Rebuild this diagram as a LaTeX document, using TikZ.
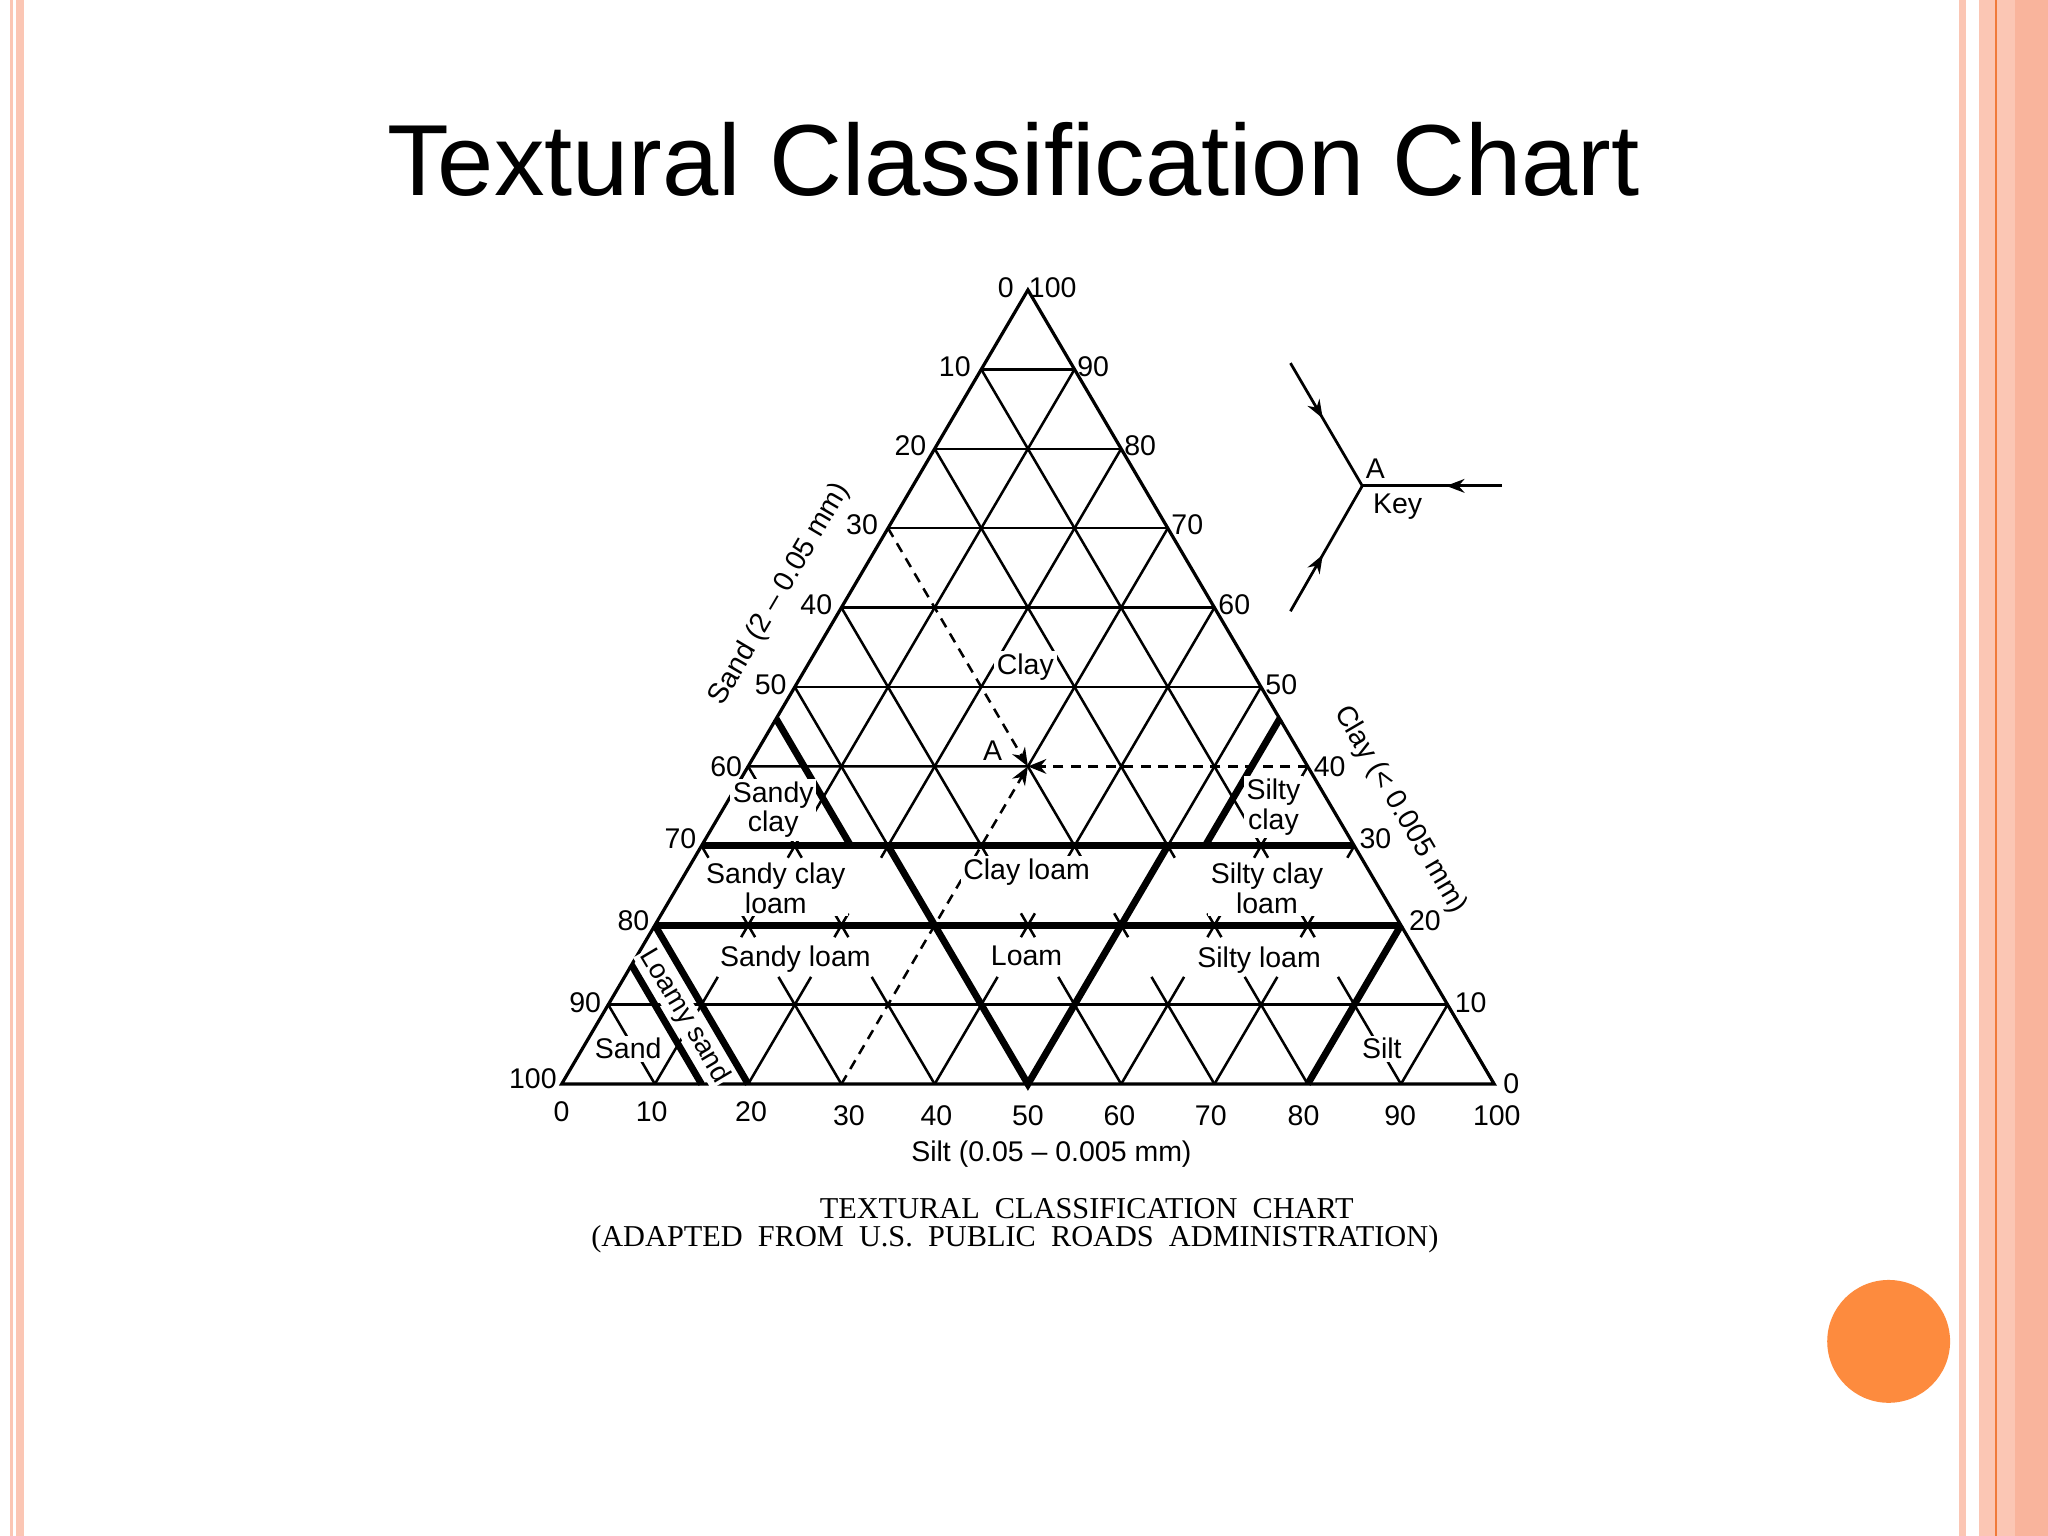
\documentclass[tikz,border=0pt]{standalone}
\usepackage{fontspec}
\setmainfont{Liberation Sans}
\newfontfamily\capfont{Liberation Serif}
\usetikzlibrary{arrows.meta,decorations.markings}
\newcommand\tp[2]{({430+7.14*(#1)+3.57*(#2)},{830-6.08*(#2)})}
\definecolor{pinkb}{HTML}{FBC6B4}
\definecolor{pinkd}{HTML}{F9B49C}
\definecolor{orangeb}{HTML}{F07A3A}
\definecolor{dotc}{HTML}{FD8B3E}
\tikzset{
  thin grid/.style={line width=0.55pt},
  thick bound/.style={line width=1.5pt},
  num/.style={font=\fontsize{6.2}{7}\selectfont,inner sep=0.5pt},
  region/.style={font=\fontsize{6.2}{6.4}\selectfont,align=center,fill=white,inner sep=0.6pt},
  dashline/.style={line width=0.55pt,dash pattern=on 2.2pt off 1.6pt},
  midarrow/.style={line width=0.6pt,postaction={decorate},decoration={markings,mark=at position #1 with {\arrow{Stealth[length=4pt,width=3pt]}}}}
}
\begin{document}
\begin{tikzpicture}[x=0.01cm,y=-0.01cm]
\useasboundingbox (0,0) rectangle (1568,1176);
\fill[white] (0,0) rectangle (1568,1176);
% borders
\fill[pinkb] (8,0) rectangle (10,1176);
\fill[pinkb] (12,0) rectangle (18,1176);
\fill[pinkb] (1500,0) rectangle (1505,1176);
\fill[pinkb] (1515,0) rectangle (1568,1176);
\fill[pinkd] (1543,0) rectangle (1568,1176);
\fill[orangeb] (1527.5,0) rectangle (1529,1176);
\node[fill=dotc,circle,minimum size=0.94cm,inner sep=0pt] (dot) at (1446,1027) {};
% title
\node[font=\fontsize{22}{26}\selectfont] (title) at (776,122) {Textural Classification Chart};
% example point A
\coordinate (A) at (787,586.8);
\coordinate (ds) at (679.9,404.4);
\coordinate (dc) at (1001.2,586.8);
\coordinate (dl) at (644.2,830);
% grid: horizontals
\foreach \c in {10,50,60,70,80,90}{\draw[thin grid] \tp{0}{\c} -- \tp{100-\c}{\c};}
\draw[thin grid] \tp{0}{40} -- (A);
% upper slanted
\foreach \s in {10,20,40,50,60}{\draw[thin grid] \tp{\s}{30} -- \tp{\s}{100-\s};}
\draw[thin grid] (A) -- \tp{30}{70};
\foreach \k in {40,50,60,80,90}{\draw[thin grid] \tp{\k-30}{30} -- \tp{0}{\k};}
\draw[thin grid] \tp{40}{30} -- (A);
% band 0-10
\foreach \s in {10,20,40,50,60,70,80,90}{\draw[thin grid] \tp{\s}{0} -- \tp{\s}{10};}
\foreach \k in {10,20,...,100}{\draw[thin grid] \tp{\k}{0} -- \tp{\k-10}{10};}
% band 10-20
\foreach \s in {10,20,40,50,60,70,80}{\draw[thin grid] \tp{\s}{10} -- \tp{\s}{13.5} \tp{\s}{18.5} -- \tp{\s}{20};}
\foreach \k in {20,30,...,90}{\draw[thin grid] \tp{\k-10}{10} -- \tp{\k-13.5}{13.5} \tp{\k-18.5}{18.5} -- \tp{\k-20}{20};}
% band 20-30
\foreach \s in {10,20,40,50,60,70}{\draw[thin grid] \tp{\s}{20} -- \tp{\s}{21.5} \tp{\s}{28.5} -- \tp{\s}{30};}
\foreach \k in {30,40,...,90}{\draw[thin grid] \tp{\k-20}{20} -- \tp{\k-21.5}{21.5} \tp{\k-28.5}{28.5} -- \tp{\k-30}{30};}
% outline
\coordinate (BL) at (430,830);
\coordinate (BR) at (1144,830);
\coordinate (AP) at (787,222);
\draw[line width=0.7pt] (BL) -- (BR) -- (AP) -- cycle;
% loamy sand label (masks grid between its boundaries)
\node[region,rotate=-59.3,inner sep=0.3pt,font=\fontsize{6}{6}\selectfont] (ls) at (524,778) {Loamy sand};
% thick boundaries
\draw[thick bound] \tp{0}{30} -- \tp{70}{30};
\draw[thick bound] \tp{0}{20} -- \tp{80}{20};
\draw[thick bound] \tp{0}{46} -- \tp{16}{30};
\draw[thick bound] \tp{54}{46} -- \tp{54}{30};
\draw[thick bound] \tp{20}{30} -- \tp{50}{0} -- \tp{50}{30};
\draw[thick bound] \tp{80}{20} -- \tp{80}{0};
\draw[thick bound] \tp{0}{20} -- \tp{20}{0};
\draw[thick bound] \tp{0}{15} -- \tp{15}{0};
% dashed example lines
\draw[dashline,-{Stealth[length=4pt,width=3.2pt]}] (ds) -- (A);
\draw[dashline,-{Stealth[length=4pt,width=3.2pt]}] (dc) -- (A);
\draw[dashline,-{Stealth[length=4pt,width=3.2pt]}] (dl) -- (A);
\node[num] (Alab) at (760,575) {A};
% region labels
\node[region] (clay) at (785,511) {Clay};
\node[region] (sc) at (592,620) {Sandy\\clay};
\node[region] (sic) at (975,618) {Silty\\clay};
\node[region] (scl) at (594,680) {Sandy clay\\loam};
\node[region] (cl) at (786,668) {Clay loam};
\node[region] (sicl) at (970,680) {Silty clay\\loam};
\node[region] (sl) at (609,734) {Sandy loam};
\node[region] (lo) at (786,732) {Loam};
\node[region] (sil) at (964,735) {Silty loam};
\node[region] (sa) at (481,803) {Sand};
\node[region] (si) at (1058,803) {Silt};
% left numbers (sand)
\node[num] (l0) at (770,220) {0};
\node[num] (l1) at (731,281) {10};
\node[num] (l2) at (697,341) {20};
\node[num] (l3) at (660,402) {30};
\node[num] (l4) at (625,463) {40};
\node[num] (l5) at (590,524) {50};
\node[num] (l6) at (556,587) {60};
\node[num] (l7) at (521,642) {70};
\node[num] (l8) at (485,705) {80};
\node[num] (l9) at (448,768) {90};
\node[num] (l10) at (408,826) {100};
% right numbers (clay)
\node[num] (r10) at (806,220) {100};
\node[num] (r9) at (837,281) {90};
\node[num] (r8) at (873,341) {80};
\node[num] (r7) at (909,402) {70};
\node[num] (r6) at (945,463) {60};
\node[num] (r5) at (981,524) {50};
\node[num] (r4) at (1018,587) {40};
\node[num] (r3) at (1053,642) {30};
\node[num] (r2) at (1091,705) {20};
\node[num] (r1) at (1126,768) {10};
\node[num] (r0) at (1157,830) {0};
% bottom numbers (silt)
\node[num] (b0) at (430,851) {0};
\node[num] (b1) at (499,851) {10};
\node[num] (b2) at (575,851) {20};
\node[num] (b3) at (650,854) {30};
\node[num] (b4) at (717,854) {40};
\node[num] (b5) at (787,854) {50};
\node[num] (b6) at (857,854) {60};
\node[num] (b7) at (927,854) {70};
\node[num] (b8) at (998,854) {80};
\node[num] (b9) at (1072,854) {90};
\node[num] (b10) at (1146,854) {100};
% axis titles
\node[num,rotate=59.6] (sandax) at (597,455) {Sand (2 -- 0.05 mm)};
\node[num,rotate=-59.6] (clayax) at (1072,620) {Clay (< 0.005 mm)};
\node[num] (siltax) at (805,884) {Silt (0.05 -- 0.005 mm)};
% key
\coordinate (K) at (1043,372);
\coordinate (K1) at (988,278);
\coordinate (K2) at (988,468);
\coordinate (K3) at (1150,372);
\draw[midarrow=0.45] (K1) -- (K);
\draw[midarrow=0.45] (K2) -- (K);
\draw[midarrow=0.4] (K3) -- (K);
\node[num] (KA) at (1053,359) {A};
\node[num] (Kkey) at (1070,388) {Key};
% caption
\node[font=\capfont\fontsize{6.6}{8}\selectfont,inner sep=0pt] (cap1) at (832,925) {TEXTURAL\ \ CLASSIFICATION\ \ CHART};
\node[font=\capfont\fontsize{6.6}{8}\selectfont,inner sep=0pt] (cap2) at (777,949) {(ADAPTED\ \ FROM\ \ U.S.\ \ PUBLIC\ \ ROADS\ \ ADMINISTRATION)};
\end{tikzpicture}
\end{document}
